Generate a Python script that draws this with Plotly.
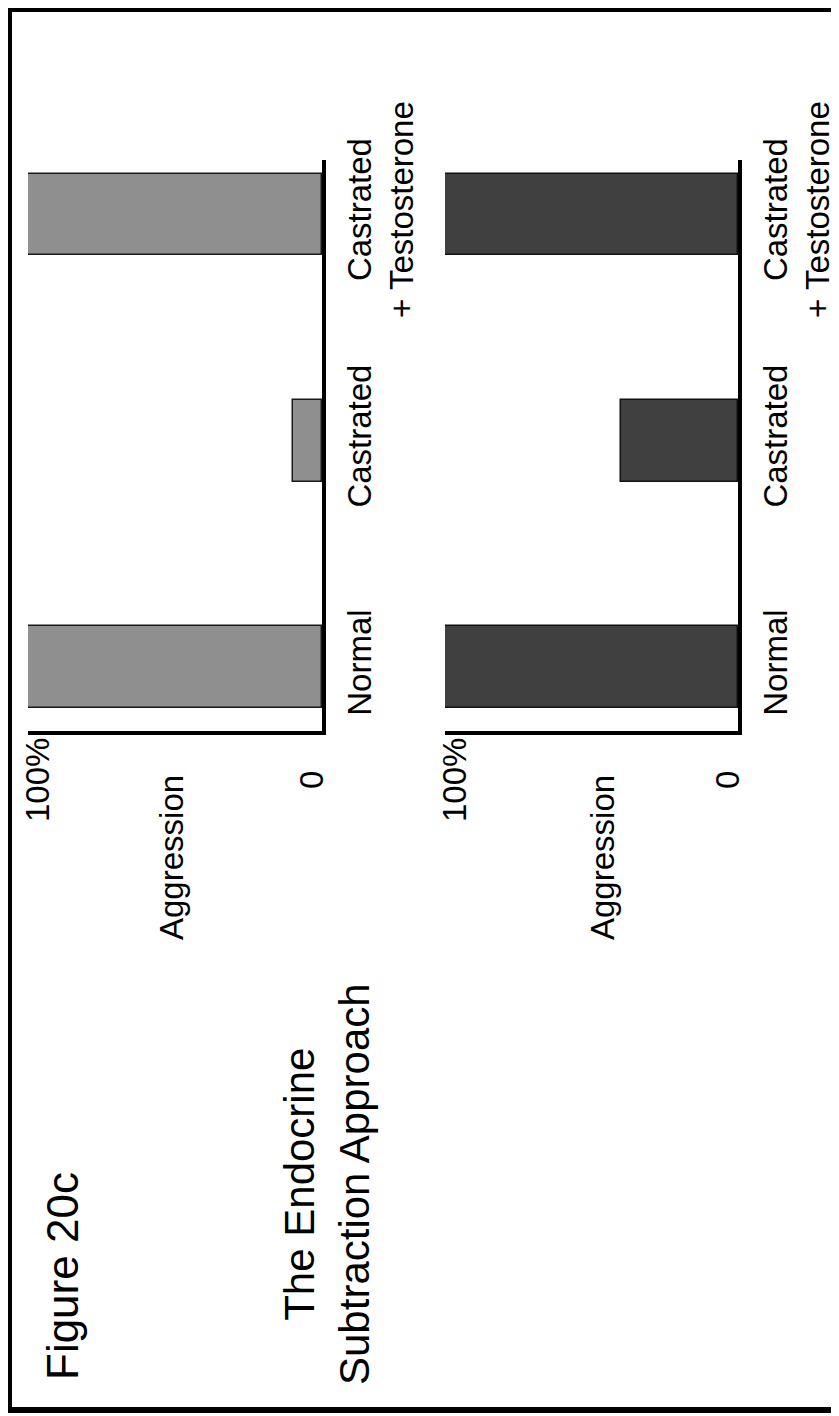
import plotly.graph_objects as go

# ---------------- data ----------------
categories = ["Normal", "Castrated", "Castrated<br>+ Testosterone"]
aggression_top = [100, 10, 100]      # first (light grey) panel, % aggression
aggression_bottom = [100, 40, 100]   # second (dark grey) panel, % aggression
value_tick_labels = ["100%", "0"]
value_tick_positions = [100, 0]
axis_label = "Aggression"
figure_label = "Figure 20c"
title_text = "The Endocrine<br>Subtraction Approach"

# ---------------- page geometry (reference pixels) ----------------
OX, OY = 8, 8         # page offset of the figure (body margin)
W, H = 839 - OX, 1416 - OY


def px(x):
    return (x - OX) / W


def py(y):
    return 1 - (y - OY) / H


FONT = "Liberation Sans, Arial, Helvetica, sans-serif"
LABEL_SIZE = 33

fig = go.Figure()

fig.add_trace(go.Bar(
    y=categories, x=aggression_top, orientation="h",
    xaxis="x", yaxis="y", width=0.362,
    marker=dict(color="#8f8f8f", line=dict(color="#1a1a1a", width=1.5)),
    showlegend=False, hoverinfo="skip",
))
fig.add_trace(go.Bar(
    y=categories, x=aggression_bottom, orientation="h",
    xaxis="x2", yaxis="y2", width=0.362,
    marker=dict(color="#404040", line=dict(color="#111111", width=1.5)),
    showlegend=False, hoverinfo="skip",
))

ydom = [py(731), py(160)]
yrange = [-0.2804, 2.2406]

common_x = dict(range=[100, 0], showgrid=False, zeroline=False,
                showticklabels=False, ticks="", showline=True,
                linewidth=4, linecolor="black", fixedrange=True,
                automargin=False)
common_y = dict(type="category", categoryorder="array", categoryarray=categories,
                range=yrange, domain=ydom, showgrid=False, zeroline=False,
                side="right", showline=True, linewidth=4, linecolor="black",
                ticks="", tickangle=-90, ticklabelstandoff=5,
                tickfont=dict(family=FONT, size=LABEL_SIZE, color="black"),
                fixedrange=True, automargin=False)

fig.update_layout(
    width=W, height=H,
    margin=dict(l=0, r=0, t=0, b=0, pad=0, autoexpand=False),
    paper_bgcolor="white", plot_bgcolor="white",
    font=dict(family=FONT, color="black"),
    xaxis=dict(domain=[px(28), px(322)], anchor="y", **common_x),
    yaxis=dict(anchor="x", **common_y),
    xaxis2=dict(domain=[px(445), px(738)], anchor="y2", **common_x),
    yaxis2=dict(anchor="x2", **common_y),
    bargap=0,
)

annotations = []
for xa, agg_x in (("x", 172), ("x2", 603)):
    shifts = {100: 9, 0: -11}
    for lab, pos in zip(value_tick_labels, value_tick_positions):
        annotations.append(dict(
            x=pos, xref=xa, y=py(780), yref="paper", text=lab,
            textangle=-90, showarrow=False, xanchor="center", yanchor="middle",
            xshift=shifts[pos],
            font=dict(family=FONT, size=LABEL_SIZE, color="black")))
    annotations.append(dict(
        x=px(agg_x), xref="paper", y=py(858), yref="paper", text=axis_label,
        textangle=-90, showarrow=False, xanchor="center", yanchor="middle",
        font=dict(family=FONT, size=LABEL_SIZE, color="black")))

annotations.append(dict(
    x=px(327), xref="paper", y=py(1184), yref="paper", text=title_text,
    textangle=-90, showarrow=False, xanchor="center", yanchor="middle",
    align="center", font=dict(family=FONT, size=42, color="black")))
annotations.append(dict(
    x=px(62), xref="paper", y=py(1276), yref="paper", text=figure_label,
    textangle=-90, showarrow=False, xanchor="center", yanchor="middle",
    font=dict(family=FONT, size=44, color="black")))

fig.update_layout(annotations=annotations)

# outer frame (the page margin hides anything left/above of it)
fig.add_shape(type="rect", xref="paper", yref="paper",
              x0=px(9), x1=px(836), y0=py(1410), y1=py(9),
              line=dict(color="black", width=6), fillcolor="rgba(0,0,0,0)",
              layer="above")

fig.write_html("out.html")
